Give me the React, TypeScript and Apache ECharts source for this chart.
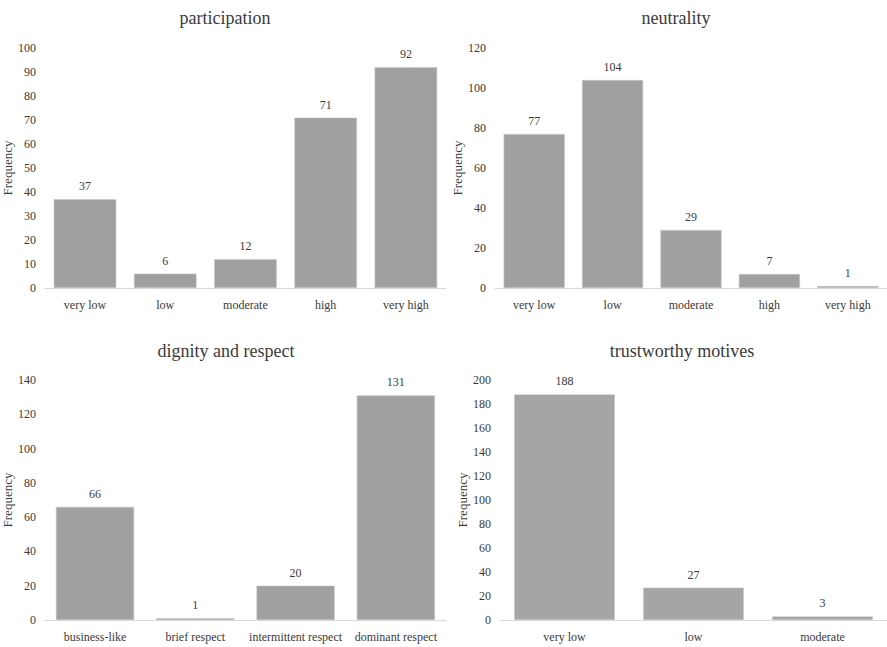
import React, { useEffect, useRef } from "react";
import * as echarts from "echarts";

const participationCategories = ["very low", "low", "moderate", "high", "very high"];
const participationValues = [37, 6, 12, 71, 92];

const neutralityCategories = ["very low", "low", "moderate", "high", "very high"];
const neutralityValues = [77, 104, 29, 7, 1];

const dignityCategories = ["business-like", "brief respect", "intermittent respect", "dominant respect"];
const dignityValues = [66, 1, 20, 131];

const motivesCategories = ["very low", "low", "moderate"];
const motivesValues = [188, 27, 3];

const panelTitles = ["participation", "neutrality", "dignity and respect", "trustworthy motives"];
const yMax = [100, 120, 140, 200];
const yInterval = [10, 20, 20, 20];
const yAxisName = "Frequency";

const FONT = "Liberation Serif";
const TEXT = "#3a3a3a";

const panels = [
  { cats: participationCategories, vals: participationValues, grid: { left: 43, top: 48, width: 403, height: 240 }, titleX: 220, titleY: 4, color: "#a0a0a0" },
  { cats: neutralityCategories, vals: neutralityValues, grid: { left: 495, top: 48, width: 403, height: 240 }, titleX: 671, titleY: 4, color: "#a0a0a0" },
  { cats: dignityCategories, vals: dignityValues, grid: { left: 43, top: 380, width: 403, height: 240 }, titleX: 221, titleY: 337, color: "#a0a0a0" },
  { cats: motivesCategories, vals: motivesValues, grid: { left: 500, top: 380, width: 400, height: 240 }, titleX: 677, titleY: 337, color: "#a5a5a5" },
];

export default function App() {
  const ref = useRef<HTMLDivElement>(null);
  useEffect(() => {
    document.body.style.margin = "0";
    document.body.style.overflow = "hidden";
    if (!ref.current) return;
    const chart = echarts.init(ref.current, undefined, { renderer: "svg" });
    const option: any = {
      animation: false,
      backgroundColor: "#ffffff",
      textStyle: { fontFamily: FONT },
      title: panels.map((p, i) => ({
        text: panelTitles[i],
        left: p.titleX,
        top: p.titleY,
        textAlign: "center",
        textStyle: { fontFamily: FONT, fontSize: 18, fontWeight: "normal", color: TEXT },
      })),
      grid: panels.map((p) => ({ ...p.grid, containLabel: false })),
      xAxis: panels.map((p, i) => ({
        type: "category",
        gridIndex: i,
        data: p.cats,
        axisLine: { show: true, lineStyle: { color: "#d9d9d9", width: 1 } },
        axisTick: { show: false },
        axisLabel: { color: TEXT, fontFamily: FONT, fontSize: 12, margin: 11, interval: 0 },
        splitLine: { show: false },
      })),
      yAxis: panels.map((p, i) => ({
        type: "value",
        gridIndex: i,
        min: 0,
        max: yMax[i],
        interval: yInterval[i],
        name: yAxisName,
        nameLocation: "middle",
        nameGap: 28,
        nameTextStyle: { color: TEXT, fontFamily: FONT, fontSize: 13 },
        axisLine: { show: false },
        axisTick: { show: false },
        splitLine: { show: false },
        axisLabel: { color: TEXT, fontFamily: FONT, fontSize: 12, margin: 9 },
      })),
      series: panels.map((p, i) => ({
        type: "bar",
        xAxisIndex: i,
        yAxisIndex: i,
        data: p.vals,
        barCategoryGap: "22%",
        itemStyle: { color: p.color, borderColor: "#c8c8c8", borderWidth: 0.6 },
        label: {
          show: true,
          position: "top",
          distance: 7,
          color: TEXT,
          fontFamily: FONT,
          fontSize: 12,
        },
      })),
    };
    chart.setOption(option);
    return () => chart.dispose();
  }, []);
  return <div ref={ref} style={{ width: 887, height: 647 }} />;
}
